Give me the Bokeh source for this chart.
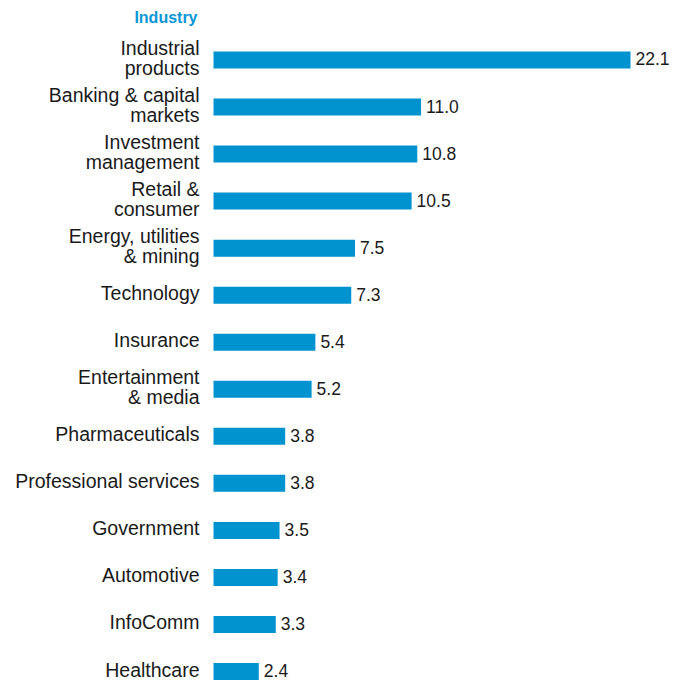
from bokeh.plotting import figure
from bokeh.models import ColumnDataSource, Range1d, Label
from bokeh.core.properties import value
from bokeh.embed import file_html
from bokeh.resources import INLINE

categories = ["Industrial\nproducts", "Banking & capital\nmarkets", "Investment\nmanagement",
              "Retail &\nconsumer", "Energy, utilities\n& mining", "Technology", "Insurance",
              "Entertainment\n& media", "Pharmaceuticals", "Professional services",
              "Government", "Automotive", "InfoComm", "Healthcare"]
values = [22.1, 11.0, 10.8, 10.5, 7.5, 7.3, 5.4, 5.2, 3.8, 3.8, 3.5, 3.4, 3.3, 2.4]
value_labels = ["%.1f" % v for v in values]

W, H = 683, 680
px_per_unit = (630 - 213) / 22.1
row = 47.04
n = len(categories)

src = ColumnDataSource(dict(
    y=list(range(n)), v=values, cat=categories, lab=value_labels,
    zero=[0] * n,
))

p = figure(width=W, height=H, output_backend="svg", toolbar_location=None,
           x_range=Range1d(-213 / px_per_unit, (W - 213) / px_per_unit),
           y_range=Range1d((n - 1) + 9 / row, -59.5 / row),
           min_border=0, min_border_left=0, min_border_right=0,
           min_border_top=0, min_border_bottom=0)
p.axis.visible = False
p.grid.visible = False
p.outline_line_color = None
p.background_fill_color = "white"
p.border_fill_color = "white"

p.hbar(y="y", left=0, right="v", height=17 / row, source=src,
       fill_color="#0093d0", line_color=None)

p.text(x="zero", y="y", text="cat", source=src, x_offset=-14, y_offset=-2,
       text_align="right", text_baseline="middle",
       text_font=value("Liberation Sans"), text_font_size="19.5px",
       text_color="#1a1a1a", text_line_height=0.92)

p.text(x="v", y="y", text="lab", source=src, x_offset=5, y_offset=-1,
       text_align="left", text_baseline="middle",
       text_font=value("Liberation Sans"), text_font_size="17.5px",
       text_color="#1a1a1a")

p.add_layout(Label(x=197, y=H - 17, x_units="screen", y_units="screen",
                   text="Industry", text_align="right", text_baseline="middle",
                   text_font="Liberation Sans", text_font_style="bold",
                   text_font_size="16px", text_color="#0a96d6"))

open("out.html", "w").write(file_html(p, INLINE))
